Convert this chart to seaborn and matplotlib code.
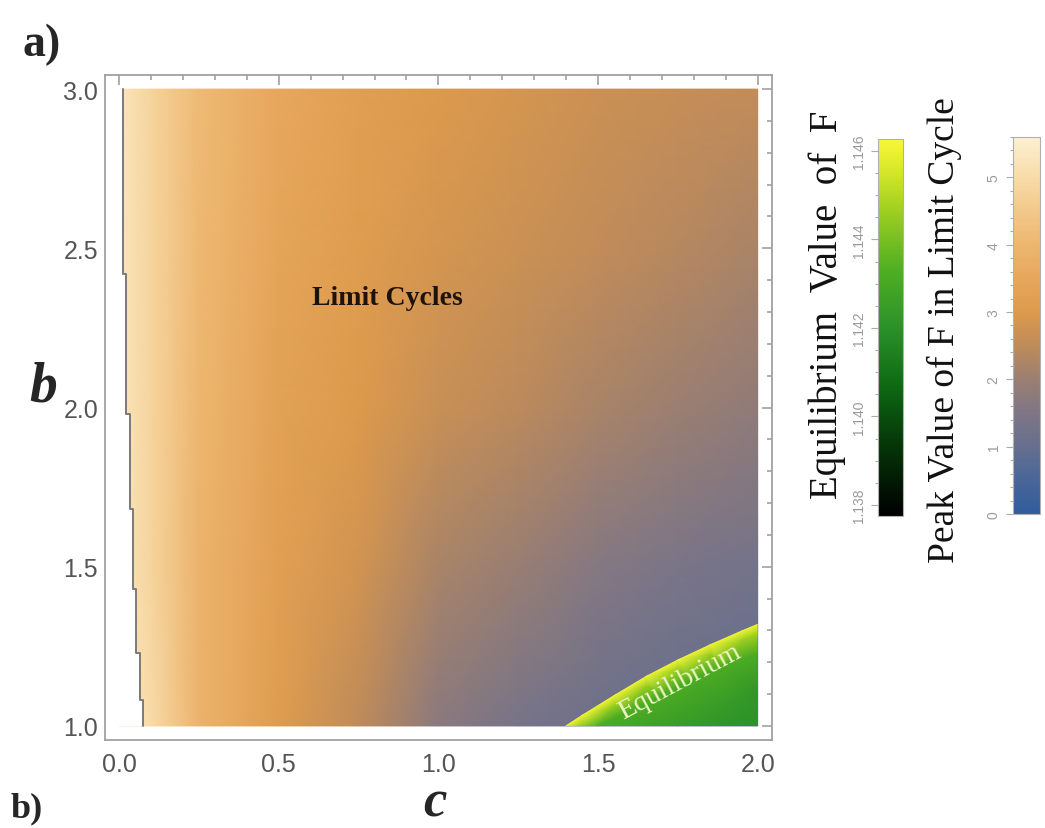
import numpy as np
import matplotlib
matplotlib.use("Agg")
import matplotlib.pyplot as plt
import matplotlib.tri as mtri
from matplotlib.colors import LinearSegmentedColormap, Normalize
from matplotlib.cm import ScalarMappable
from matplotlib.patches import Polygon
from matplotlib.ticker import MultipleLocator, FormatStrFormatter
import seaborn as sns

# ---- Peak value of F in the limit cycle, sampled on a (b, c) grid ----
c_grid = [0.0, 0.1, 0.25, 0.5, 0.75, 1.0, 1.25, 1.5, 1.75, 2.0]
b_grid = [1.0, 1.5, 2.0, 2.5, 3.0]
peak_F = [
    [5.3, 5.0, 3.9, 3.1, 2.5, 1.7, 1.35, 1.1, 1.0, 0.95],
    [5.3, 4.8, 3.9, 3.2, 2.8, 2.2, 1.95, 1.6, 1.4, 1.25],
    [5.3, 4.8, 4.0, 3.3, 3.0, 2.65, 2.45, 2.2, 2.0, 1.8],
    [5.3, 4.8, 4.05, 3.4, 3.1, 2.85, 2.7, 2.55, 2.4, 2.2],
    [5.3, 4.8, 4.1, 3.5, 3.2, 3.0, 2.85, 2.7, 2.62, 2.55],
]

# ---- Left edge of the limit-cycle region (step boundary) ----
edge_b = [1.0, 1.08, 1.23, 1.43, 1.68, 1.98, 2.42, 3.0]
edge_c = [0.075, 0.066, 0.053, 0.044, 0.034, 0.022, 0.0125]

# ---- Equilibrium value of F in the stable region ----
eq_c = [1.396, 1.45, 1.55, 1.65, 1.75, 1.85, 1.95, 2.0,
        1.44, 1.55, 1.65, 1.75, 1.85, 1.95, 2.0,
        1.50, 1.6, 1.7, 1.8, 1.9, 2.0,
        1.75, 1.9, 2.0, 2.0]
eq_b = [1.0, 1.035, 1.097, 1.157, 1.209, 1.256, 1.300, 1.321,
        1.0, 1.067, 1.127, 1.179, 1.226, 1.270, 1.291,
        1.0, 1.05, 1.10, 1.15, 1.19, 1.23,
        1.0, 1.06, 1.12, 1.0]
eq_F = [1.1462] * 8 + [1.1447] * 7 + [1.1432] * 6 + [1.1425, 1.1424, 1.1423, 1.1420]
n_boundary = 8

# ---- Colour scales ----
peak_stops = [0.0, 0.6, 1.0, 1.5, 2.0, 2.5, 3.0, 3.5, 4.0, 4.5, 5.0, 5.6]
peak_colors = ["#2f5c9e", "#4f6896", "#676f8e", "#7f7686", "#9b7f71", "#bf8b5a",
               "#dc9a4c", "#e7a75c", "#edb66f", "#f3c88a", "#f8dba8", "#fdf0d2"]
peak_range = (0.0, 5.6)
peak_ticks = [0, 1, 2, 3, 4, 5]

eq_fracs = [0.0, 0.2, 0.35, 0.5, 0.65, 0.8, 0.92, 1.0]
eq_colors = ["#000000", "#053a08", "#0f6a14", "#2b922a", "#4fae22", "#99cc20",
             "#d8e82a", "#f8f838"]
eq_range = (1.13775, 1.14627)
eq_ticks = [1.138, 1.140, 1.142, 1.144, 1.146]

sns.set_theme(style="white")
plt.rcParams["font.family"] = ["Liberation Sans", "DejaVu Sans"]

peak_cmap = LinearSegmentedColormap.from_list(
    "peak", [((v - peak_range[0]) / (peak_range[1] - peak_range[0]), col)
             for v, col in zip(peak_stops, peak_colors)])
eq_cmap = LinearSegmentedColormap.from_list("eq", list(zip(eq_fracs, eq_colors)))

fig = plt.figure(figsize=(10.45, 8.29), dpi=100)
ax = fig.add_axes([0.1005, 0.1062, 0.638, 0.802])

# peak value field
C, B = np.meshgrid(c_grid, b_grid)
ax.pcolormesh(C, B, np.array(peak_F), shading="gouraud", cmap=peak_cmap,
              vmin=peak_range[0], vmax=peak_range[1], zorder=1)

# blank out the part left of the limit-cycle boundary
for i, cm in enumerate(edge_c):
    ax.fill_betweenx([edge_b[i], edge_b[i + 1]], -0.1, cm, color="white",
                     linewidth=0, zorder=2)
step_x, step_y = [], []
for i, cm in enumerate(edge_c):
    step_x += [cm, cm]
    step_y += [edge_b[i], edge_b[i + 1]]
ax.plot(step_x, step_y, color="#7a7a7a", lw=1.4, zorder=3)

# equilibrium region
tri = mtri.Triangulation(eq_c, eq_b)
tpc = ax.tripcolor(tri, eq_F, shading="gouraud", cmap=eq_cmap,
                   vmin=eq_range[0], vmax=eq_range[1], zorder=4)
clip_verts = list(zip(eq_c[:n_boundary], eq_b[:n_boundary])) + [(2.0, 1.0)]
clip = Polygon(clip_verts, closed=True, facecolor="none", edgecolor="none",
               transform=ax.transData)
ax.add_patch(clip)
tpc.set_clip_path(clip)

ax.set_xlim(-0.044, 2.044)
ax.set_ylim(0.956, 3.044)
ax.xaxis.set_major_locator(MultipleLocator(0.5))
ax.xaxis.set_minor_locator(MultipleLocator(0.1))
ax.yaxis.set_major_locator(MultipleLocator(0.5))
ax.yaxis.set_minor_locator(MultipleLocator(0.1))
ax.xaxis.set_major_formatter(FormatStrFormatter("%.1f"))
ax.yaxis.set_major_formatter(FormatStrFormatter("%.1f"))
ax.tick_params(which="both", direction="in", top=True, right=True,
               color="#999999", width=1.1)
ax.tick_params(which="major", length=7, labelsize=18, labelcolor="#555555")
ax.tick_params(which="minor", length=3.5)
ax.tick_params(axis="x", pad=9)
ax.tick_params(axis="y", pad=5)
for sp in ax.spines.values():
    sp.set_color("#a0a0a0")
    sp.set_linewidth(1.3)
ax.grid(False)

serif = ["Liberation Serif", "DejaVu Serif"]
ax.text(0.839, 2.347, "Limit Cycles", family=serif, fontsize=20, fontweight="bold",
        color="#1e120c", ha="center", va="center", zorder=6)
ax.text(1.756, 1.141, "Equilibrium", family=serif, fontsize=20, color="#eef6c4",
        rotation=28, ha="center", va="center", rotation_mode="anchor", zorder=6)

fig.text(0.0415, 0.532, "b", family=serif, fontsize=40, fontweight="bold",
         style="italic", ha="center", va="center")
fig.text(0.416, 0.0145, "c", family=serif, fontsize=38, fontweight="bold",
         style="italic", ha="center", va="baseline")
fig.text(0.040, 0.946, "a)", family=serif, fontsize=33, fontweight="bold",
         ha="center", va="center")
fig.text(0.010, 0.004, "b)", family=serif, fontsize=26, fontweight="bold",
         ha="left", va="bottom")

# ---- colour bars ----
def bar(rect, cmap, vrange, ticks, minor, fmt):
    cax = fig.add_axes(rect)
    sm = ScalarMappable(norm=Normalize(*vrange), cmap=cmap)
    cb = fig.colorbar(sm, cax=cax, ticks=ticks)
    cb.outline.set_edgecolor("#b0b0b0")
    cb.outline.set_linewidth(0.8)
    cax.yaxis.set_ticks_position("left")
    cax.yaxis.set_minor_locator(MultipleLocator(minor))
    cax.yaxis.set_major_formatter(FormatStrFormatter(fmt))
    cax.tick_params(axis="y", which="both", direction="out", color="#aaaaaa",
                    labelsize=10, labelcolor="#9a9a9a", labelrotation=90, pad=4,
                    width=0.8)
    cax.tick_params(axis="y", which="major", length=5)
    cax.tick_params(axis="y", which="minor", length=2.5)
    for lab in cax.get_yticklabels():
        lab.set_va("center")
    return cax

bar([0.8402, 0.3764, 0.0239, 0.4548], eq_cmap, eq_range, eq_ticks, 0.0005, "%.3f")
bar([0.9694, 0.3788, 0.0258, 0.4548], peak_cmap, peak_range, peak_ticks, 0.2, "%d")

fig.text(0.792, 0.632, "Equilibrium  Value  of  F", family=serif, fontsize=28,
         rotation=90, ha="center", va="center", color="#111111")
fig.text(0.904, 0.602, "Peak Value of F in Limit Cycle", family=serif, fontsize=27,
         rotation=90, ha="center", va="center", color="#111111")

fig.savefig("out.png", dpi=100, facecolor="white")
